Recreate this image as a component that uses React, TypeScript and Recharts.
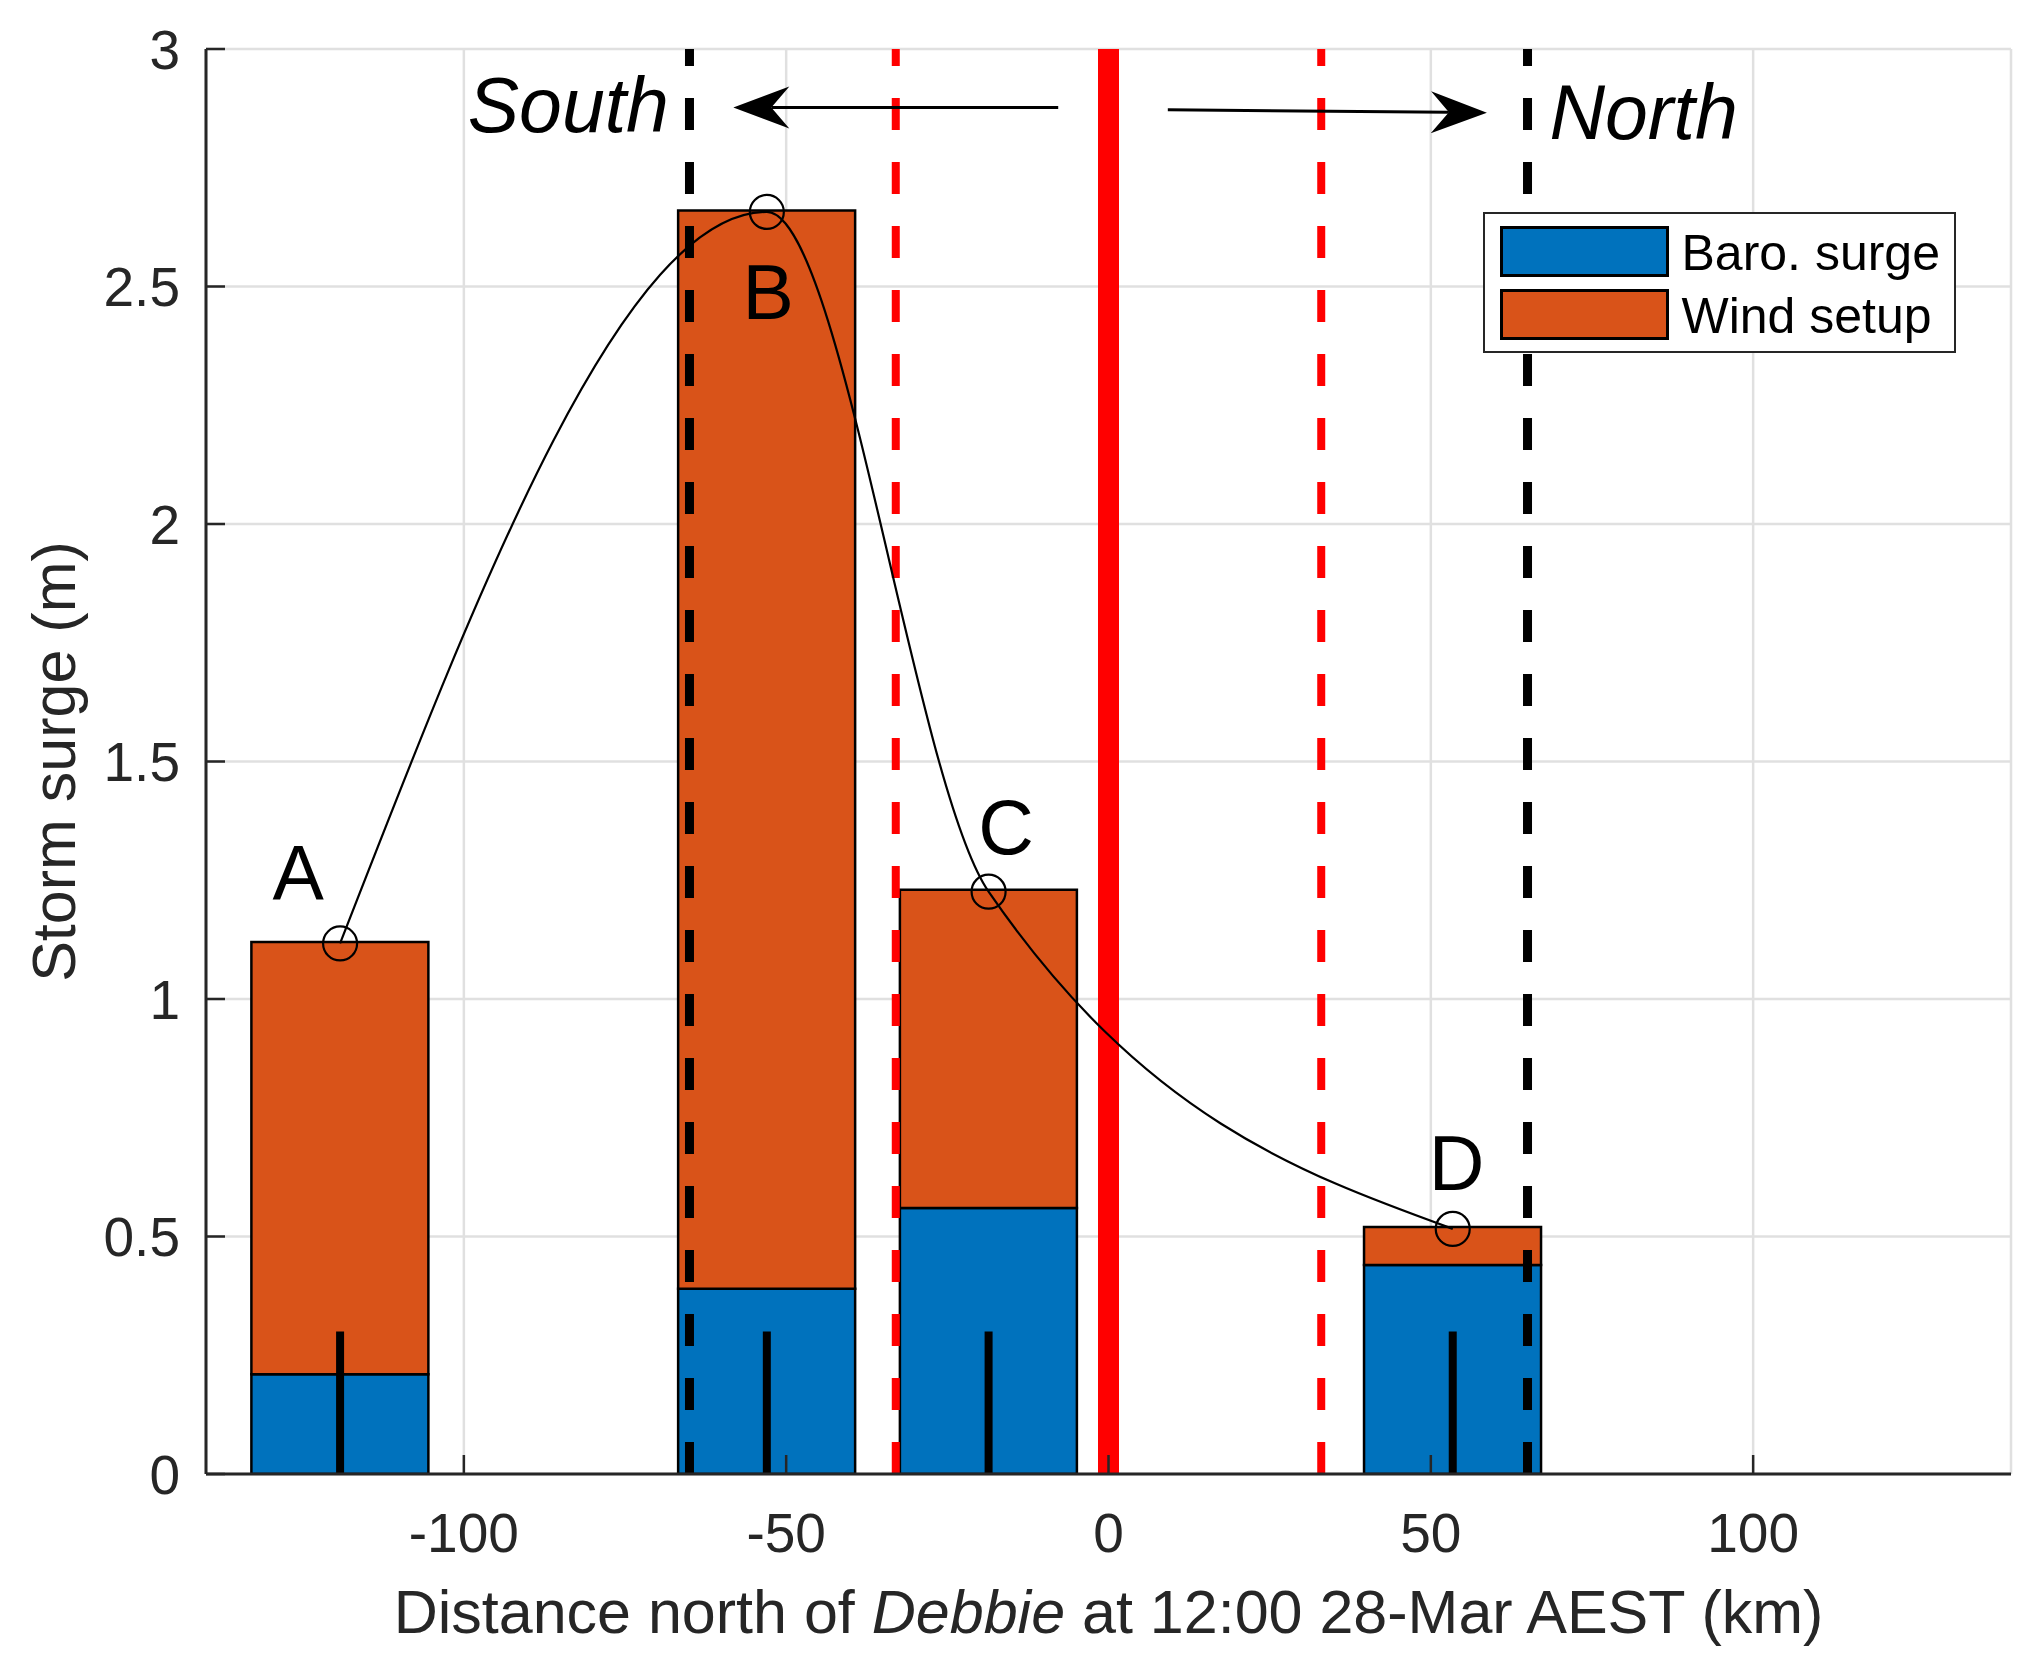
import {
  ComposedChart,
  Bar,
  Line,
  XAxis,
  YAxis,
  CartesianGrid,
  ReferenceLine,
  ReferenceDot,
  Legend,
  Label,
} from "recharts"

const FONT = '"Liberation Sans", Arial, Helvetica, sans-serif'
const AXIS = "#262626"

// stations (km north of Debbie) and surge components (m)
const stationKm = [-119.2, -53.0, -18.6, 53.4]
const baroSurge = [0.21, 0.39, 0.56, 0.44]
const windSetup = [0.91, 2.27, 0.67, 0.08]
const peakSurge = [1.117, 2.657, 1.226, 0.516]
const stationNames = ["A", "B", "C", "D"]
const nameKm = [-125.7, -52.8, -15.9, 54.0]
const nameSurge = [1.208, 2.431, 1.305, 0.598]
const stemTop = 0.3

const xTicks = [-100, -50, 0, 50, 100]
const yTicks = [0, 0.5, 1, 1.5, 2, 2.5, 3]
const eyeKm = 0
const redDashKm = [-33, 33]
const blackDashKm = [-65, 65]
const southArrow = [
  { x: -7.8, y: 2.877 },
  { x: -58.2, y: 2.877 },
]
const northArrow = [
  { x: 9.2, y: 2.872 },
  { x: 58.7, y: 2.866 },
]
const southText = { x: -99.4, y: 2.826 }
const northText = { x: 68.4, y: 2.81 }

const data = stationKm.map((km, i) => ({
  km,
  baro: baroSurge[i],
  wind: windSetup[i],
  peak: peakSurge[i],
}))

function Arrow(p: any) {
  const { x1, y1, x2, y2 } = p
  const ang = Math.atan2(y2 - y1, x2 - x1)
  const ux = Math.cos(ang)
  const uy = Math.sin(ang)
  const px = -uy
  const py = ux
  const L = 56
  const W = 21
  const N = 38
  const bx = x2 - ux * L
  const by = y2 - uy * L
  const nx = x2 - ux * N
  const ny = y2 - uy * N
  return (
    <g>
      <line x1={x1} y1={y1} x2={nx} y2={ny} stroke="#000" strokeWidth={3} />
      <path
        d={`M${x2},${y2} L${bx + px * W},${by + py * W} L${nx},${ny} L${bx - px * W},${by - py * W} Z`}
        fill="#000"
      />
    </g>
  )
}

function textShape(value: string, anchor: string, italic: boolean) {
  return (p: any) => (
    <text
      x={p.cx}
      y={p.cy}
      textAnchor={anchor}
      fontSize={77}
      fontStyle={italic ? "italic" : "normal"}
      fontFamily={FONT}
      fill="#000"
    >
      {value}
    </text>
  )
}

function XLabel(props: any) {
  const vb = props.viewBox || { x: 206, y: 1474, width: 1805 }
  return (
    <text
      x={vb.x + vb.width / 2}
      y={vb.y + 159}
      textAnchor="middle"
      fontSize={61}
      fill={AXIS}
      fontFamily={FONT}
    >
      Distance north of <tspan fontStyle="italic">Debbie</tspan> at 12:00 28-Mar AEST (km)
    </text>
  )
}

function YLabel(props: any) {
  const vb = props.viewBox || { x: 0, y: 49, width: 206, height: 1425 }
  const cx = 75
  const cy = vb.y + vb.height / 2
  return (
    <text
      x={cx}
      y={cy}
      transform={`rotate(-90, ${cx}, ${cy})`}
      textAnchor="middle"
      fontSize={61}
      fill={AXIS}
      fontFamily={FONT}
    >
      Storm surge (m)
    </text>
  )
}

function LegendBox(props: any) {
  const payload = (props.payload || []).filter(
    (entry: any) => entry.type !== "none" && entry.dataKey !== "peak"
  )
  return (
    <div
      style={{
        boxSizing: "border-box",
        width: 473,
        height: 141,
        border: `2.5px solid ${AXIS}`,
        background: "#fff",
        position: "relative",
      }}
    >
      {payload.map((entry: any, i: number) => (
        <div
          key={i}
          style={{
            position: "absolute",
            left: 14.5,
            top: 11.5 + i * 63.5,
            height: 51,
            display: "flex",
            alignItems: "center",
          }}
        >
          <div
            style={{
              boxSizing: "border-box",
              width: 169,
              height: 51,
              background: entry.color,
              border: "3px solid #000",
            }}
          />
          <span
            style={{
              marginLeft: 13,
              paddingTop: 4,
              fontSize: 50,
              lineHeight: "51px",
              fontFamily: FONT,
              color: "#000",
              whiteSpace: "nowrap",
            }}
          >
            {entry.value}
          </span>
        </div>
      ))}
    </div>
  )
}

export default function App() {
  return (
    <div style={{ position: "absolute", left: 0, top: 0, width: 2043, height: 1677, background: "#fff" }}>
      <ComposedChart
        width={2043}
        height={1677}
        data={data}
        margin={{ top: 49, right: 32, bottom: 0, left: 0 }}
      >
        <CartesianGrid stroke="#e0e0e0" strokeWidth={2.5} />
        <XAxis
          dataKey="km"
          type="number"
          domain={[-140, 140]}
          ticks={xTicks}
          interval={0}
          allowDataOverflow
          height={203}
          tickSize={-19}
          tickMargin={58}
          axisLine={{ stroke: AXIS, strokeWidth: 3 }}
          tickLine={{ stroke: AXIS, strokeWidth: 2.5 }}
          tick={{ fill: AXIS, fontSize: 55, fontFamily: FONT }}
        >
          <Label content={<XLabel />} />
        </XAxis>
        <XAxis
          xAxisId="top"
          orientation="top"
          type="number"
          domain={[-140, 140]}
          ticks={xTicks}
          interval={0}
          allowDataOverflow
          height={0}
          tickSize={-19}
          tick={false}
          axisLine={{ stroke: AXIS, strokeWidth: 3 }}
          tickLine={{ stroke: AXIS, strokeWidth: 2.5 }}
        />
        <YAxis
          type="number"
          domain={[0, 3]}
          ticks={yTicks}
          interval={0}
          allowDataOverflow
          width={206}
          tickSize={-19}
          tickMargin={45}
          axisLine={{ stroke: AXIS, strokeWidth: 3 }}
          tickLine={{ stroke: AXIS, strokeWidth: 2.5 }}
          tick={{ fill: AXIS, fontSize: 55, fontFamily: FONT }}
        >
          <Label content={<YLabel />} />
        </YAxis>
        <YAxis
          yAxisId="right"
          orientation="right"
          type="number"
          domain={[0, 3]}
          ticks={yTicks}
          interval={0}
          allowDataOverflow
          width={0}
          tickSize={-19}
          tick={false}
          axisLine={{ stroke: AXIS, strokeWidth: 3 }}
          tickLine={{ stroke: AXIS, strokeWidth: 2.5 }}
        />
        <Legend
          layout="vertical"
          align="center"
          verticalAlign="middle"
          wrapperStyle={{ left: 1483, top: 212, width: 473, height: 141 }}
          content={<LegendBox />}
        />

        <Bar
          dataKey="baro"
          name="Baro. surge"
          stackId="s"
          fill="#0072BD"
          stroke="#000"
          strokeWidth={2.5}
          isAnimationActive={false}
        />
        <Bar
          dataKey="wind"
          name="Wind setup"
          stackId="s"
          fill="#D95319"
          stroke="#000"
          strokeWidth={2.5}
          isAnimationActive={false}
        />

        {stationKm.map((km) => (
          <ReferenceLine
            key={`stem${km}`}
            segment={[
              { x: km, y: 0 },
              { x: km, y: stemTop },
            ]}
            stroke="#000"
            strokeWidth={8}
            ifOverflow="visible"
          />
        ))}

        <ReferenceLine
          segment={[
            { x: eyeKm, y: 0 },
            { x: eyeKm, y: 3 },
          ]}
          stroke="#ff0000"
          strokeWidth={21}
          ifOverflow="visible"
        />
        {redDashKm.map((km) => (
          <ReferenceLine
            key={`red${km}`}
            segment={[
              { x: km, y: 0 },
              { x: km, y: 3 },
            ]}
            stroke="#ff0000"
            strokeWidth={8}
            strokeDasharray="32 32"
            ifOverflow="visible"
          />
        ))}
        {blackDashKm.map((km) => (
          <ReferenceLine
            key={`blk${km}`}
            segment={[
              { x: km, y: 0 },
              { x: km, y: 3 },
            ]}
            stroke="#000"
            strokeWidth={9}
            strokeDasharray="32 32"
            ifOverflow="visible"
          />
        ))}

        <Line
          dataKey="peak"
          type="monotone"
          stroke="#000"
          strokeWidth={2.2}
          dot={{ r: 17, fill: "none", stroke: "#000", strokeWidth: 2.2 }}
          activeDot={false}
          legendType="none"
          isAnimationActive={false}
        />

        <ReferenceLine segment={southArrow} ifOverflow="visible" shape={Arrow} />
        <ReferenceLine segment={northArrow} ifOverflow="visible" shape={Arrow} />

        <ReferenceDot
          x={southText.x}
          y={southText.y}
          r={0}
          ifOverflow="visible"
          shape={textShape("South", "start", true)}
        />
        <ReferenceDot
          x={northText.x}
          y={northText.y}
          r={0}
          ifOverflow="visible"
          shape={textShape("North", "start", true)}
        />
        {stationNames.map((name, i) => (
          <ReferenceDot
            key={name}
            x={nameKm[i]}
            y={nameSurge[i]}
            r={0}
            ifOverflow="visible"
            shape={textShape(name, "middle", false)}
          />
        ))}
      </ComposedChart>
    </div>
  )
}
